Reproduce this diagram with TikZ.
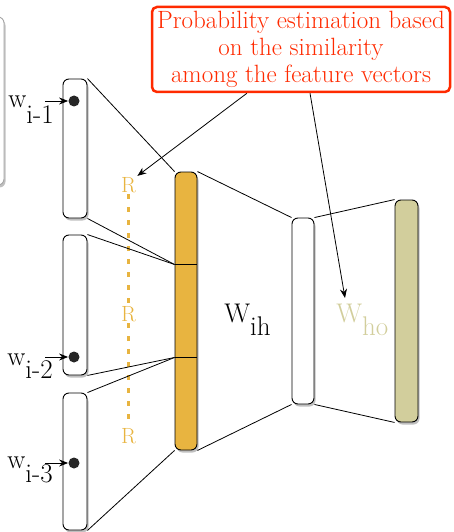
\documentclass[tikz,border=0pt]{standalone}
\usepackage{xcolor}
\usepackage{tikz}
\usetikzlibrary{arrows.meta,positioning,calc,shadows}
\definecolor{projorange}{HTML}{E8B440}
\definecolor{outkhaki}{HTML}{D2CE9C}
\definecolor{notered}{HTML}{FF2A00}

\begin{document}
\begin{tikzpicture}[x=1pt,y=-1pt,>={Stealth[length=9pt,width=7pt]},line width=0.8pt,
    layer/.style={draw,line width=0.9pt,rounded corners=6pt,inner sep=0pt,
      drop shadow={shadow xshift=1.5pt,shadow yshift=-2.5pt,opacity=0.5}},
    dot/.style={circle,fill=black!85,inner sep=0pt,minimum size=11pt},
    wlab/.style={anchor=base west,inner sep=0pt,font=\fontsize{27}{27}\selectfont},
    rlab/.style={text=projorange,inner sep=1pt,font=\fontsize{22}{22}\selectfont}]
    \useasboundingbox (0,0) rectangle (453,532);
    % box cut off at the left edge
    \node[layer,draw=black!35,fill=white,minimum width=60pt,minimum height=168pt] (side) at (-26,101) {};
    % input word vectors
    \node[layer,fill=white,minimum width=24pt,minimum height=139pt] (in1) at (75,148.5) {};
    \node[layer,fill=white,minimum width=24pt,minimum height=140pt] (in2) at (75,305) {};
    \node[layer,fill=white,minimum width=24pt,minimum height=137pt] (in3) at (75,461.5) {};
    \node[dot] (x1) at (74,101) {};
    \node[dot] (x2) at (74,357) {};
    \node[dot] (x3) at (74,463) {};
    \node[wlab] (w1) at (8,108) {w\raisebox{-15pt}{i-1}};
    \node[wlab] (w2) at (7,365) {w\raisebox{-13pt}{i-2}};
    \node[wlab] (w3) at (7,468) {w\raisebox{-14pt}{i-3}};
    \coordinate (a1) at (45,101);
    \coordinate (a2) at (45,357);
    \coordinate (a3) at (45,463);
    \draw[->] (a1) -- (x1.west);
    \draw[->] (a2) -- (x2.west);
    \draw[->] (a3) -- (x3.west);
    % shared projection R
    \node[rlab] (r1) at (128.5,185) {R};
    \node[rlab] (r2) at (128.5,314) {R};
    \node[rlab] (r3) at (128.5,436) {R};
    \draw[projorange,line width=2.5pt,dash pattern=on 5pt off 8pt] (r1.south) -- (r2.north);
    \draw[projorange,line width=2.5pt,dash pattern=on 5pt off 8pt] (r2.south) -- (r3.north);
    % projection, hidden and output layers
    \node[layer,fill=projorange,minimum width=22pt,minimum height=278pt] (proj) at (186,311) {};
    \node[layer,fill=white,minimum width=22pt,minimum height=186pt] (hid) at (303,311) {};
    \node[layer,fill=outkhaki,minimum width=23pt,minimum height=222pt] (out) at (406.5,311) {};
    \coordinate (s1) at ($(proj.north west)!1/3!(proj.south west)$);
    \coordinate (s2) at ($(proj.north west)!2/3!(proj.south west)$);
    \draw (s1) -- ($(proj.north east)!1/3!(proj.south east)$);
    \draw (s2) -- ($(proj.north east)!2/3!(proj.south east)$);
    % connections
    \draw (in1.north east) -- (proj.north west);
    \draw (in1.south east) -- (s1);
    \draw (in2.north east) -- (s1);
    \draw (in2.south east) -- (s2);
    \draw (in3.north east) -- (s2);
    \draw (in3.south east) -- (proj.south west);
    \draw (proj.north east) -- (hid.north west);
    \draw (proj.south east) -- (hid.south west);
    \draw (hid.north east) -- (out.north west);
    \draw (hid.south east) -- (out.south west);
    % weight labels
    \node[wlab] (wih) at (224,322) {W\raisebox{-13pt}{ih}};
    \node[wlab,text=outkhaki] (who) at (336,322) {W\raisebox{-13pt}{ho}};
    % note
    \node[draw=notered,line width=2.5pt,rounded corners=5pt,text=notered,align=center,
      font=\fontsize{25}{27}\selectfont,minimum width=298pt,minimum height=85pt,inner sep=2pt]
      (note) at (301,49.5) {Probability estimation based\\on the similarity\\among the feature vectors};
    \coordinate (t2) at (345,298);
    \draw[->] ($(note.south west)!0.32!(note.south east)$) -- (r1.north east);
    \draw[->] ($(note.south west)!0.53!(note.south east)$) -- (t2);
\end{tikzpicture}
\end{document}
